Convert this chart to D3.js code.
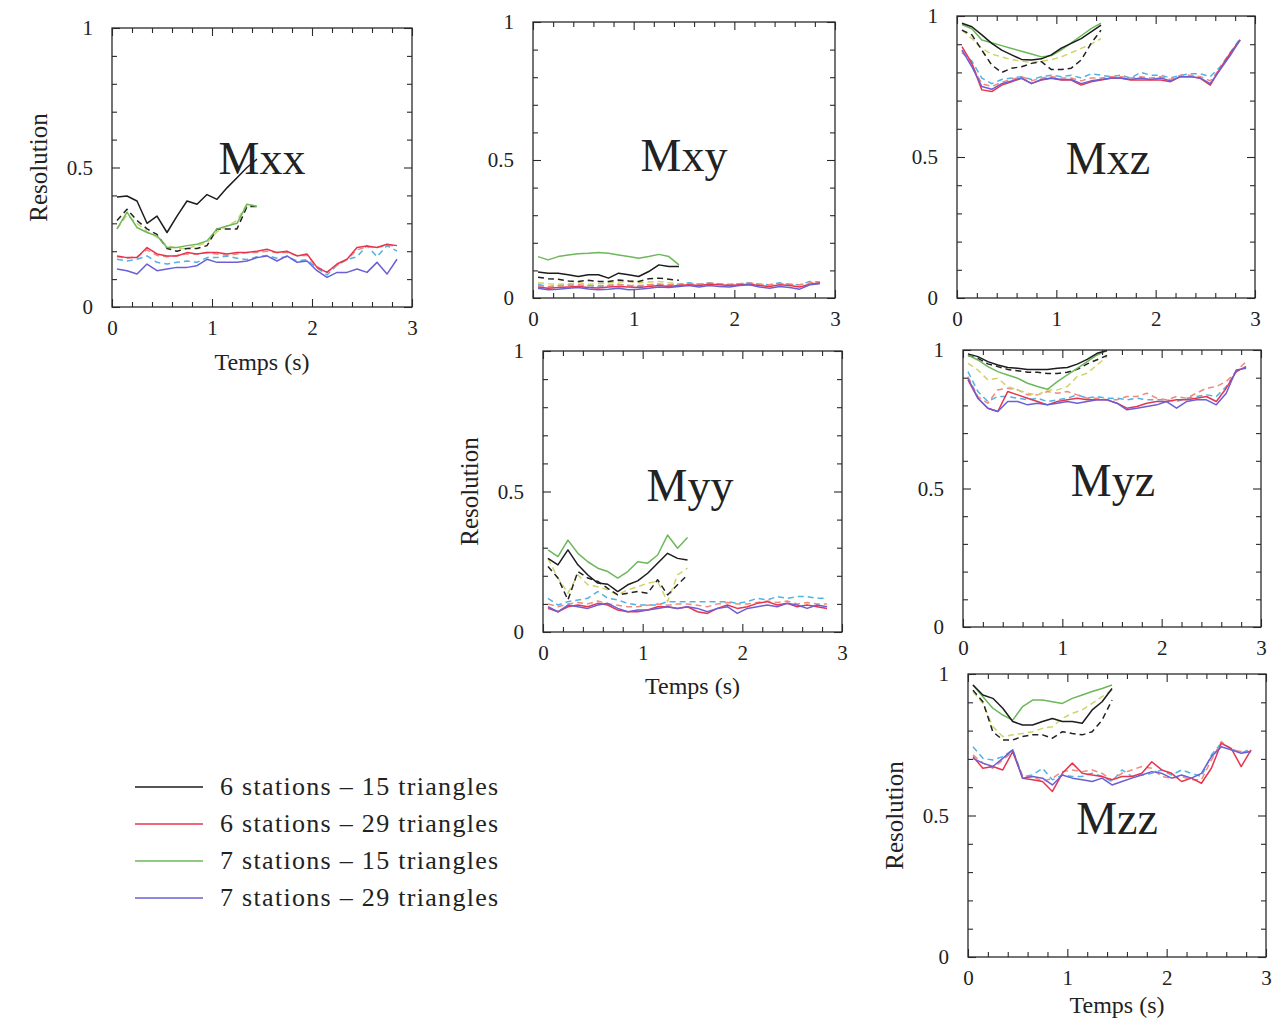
<!DOCTYPE html>
<html><head><meta charset="utf-8">
<script src="https://cdn.jsdelivr.net/npm/d3@7"></script>
<style>
body{margin:0;background:#fff}
svg{display:block}
text{font-family:"Liberation Serif","Times New Roman",serif;fill:#222}
</style>
</head><body><svg id="c" width="1287" height="1024"></svg>
<script>
// ---------- data ----------
const times15 = [0.05,0.15,0.25,0.35,0.45,0.55,0.65,0.75,0.85,0.95,1.05,1.15,1.25,1.35,1.45];
const times29 = [0.05,0.15,0.25,0.35,0.45,0.55,0.65,0.75,0.85,0.95,1.05,1.15,1.25,1.35,1.45,1.55,1.65,1.75,1.85,1.95,2.05,2.15,2.25,2.35,2.45,2.55,2.65,2.75,2.85];
const panelNames = ["Mxx","Mxy","Mxz","Myy","Myz","Mzz"];
const legendLabels = ["6 stations \u2013 15 triangles","6 stations \u2013 29 triangles","7 stations \u2013 15 triangles","7 stations \u2013 29 triangles"];
const xMajorTicks = [0,1,2,3];
const xMinorTicks = [0.2,0.4,0.6,0.8,1.2,1.4,1.6,1.8,2.2,2.4,2.6,2.8];
const yMajorTicks = [0,0.5,1];
const yMinorTicks = [0.1,0.2,0.3,0.4,0.6,0.7,0.8,0.9];

// Mxx
const mxx_6s15 = [0.394,0.398,0.380,0.300,0.326,0.267,0.326,0.380,0.368,0.403,0.386,0.427,0.463,0.500,0.530];
const mxx_6s15b = [0.31,0.35,0.31,0.28,0.26,0.21,0.20,0.21,0.21,0.22,0.28,0.28,0.28,0.36,0.36];
const mxx_7s15 = [0.280,0.340,0.285,0.267,0.255,0.213,0.213,0.220,0.225,0.237,0.280,0.290,0.300,0.368,0.360];
const mxx_7s15b = [0.28,0.33,0.30,0.27,0.25,0.22,0.21,0.21,0.22,0.23,0.27,0.29,0.31,0.37,0.36];
const mxx_6s29 = [0.183,0.177,0.177,0.213,0.190,0.183,0.183,0.195,0.190,0.195,0.195,0.190,0.195,0.195,0.200,0.207,0.195,0.200,0.183,0.190,0.142,0.124,0.154,0.171,0.213,0.219,0.213,0.225,0.220];
const mxx_6s29b = [0.180,0.175,0.180,0.205,0.185,0.180,0.185,0.190,0.190,0.195,0.190,0.185,0.190,0.195,0.195,0.200,0.195,0.195,0.185,0.185,0.145,0.125,0.150,0.170,0.205,0.215,0.215,0.220,0.220];
const mxx_7s29 = [0.136,0.130,0.118,0.154,0.130,0.136,0.142,0.142,0.148,0.171,0.160,0.160,0.160,0.165,0.177,0.183,0.165,0.183,0.160,0.165,0.130,0.106,0.124,0.124,0.136,0.124,0.160,0.118,0.171];
const mxx_7s29b = [0.171,0.165,0.171,0.183,0.160,0.154,0.160,0.165,0.160,0.177,0.177,0.183,0.175,0.170,0.180,0.185,0.175,0.180,0.165,0.170,0.140,0.115,0.150,0.170,0.180,0.220,0.180,0.220,0.200];

// Mxy
const mxy_6s15 = [0.094,0.090,0.090,0.084,0.078,0.084,0.084,0.072,0.090,0.084,0.078,0.096,0.120,0.114,0.114];
const mxy_6s15b = [0.075,0.070,0.068,0.062,0.060,0.064,0.060,0.060,0.065,0.062,0.060,0.070,0.072,0.068,0.064];
const mxy_7s15 = [0.150,0.138,0.150,0.156,0.160,0.162,0.165,0.162,0.156,0.150,0.144,0.150,0.158,0.150,0.120];
const mxy_7s15b = [0.055,0.052,0.050,0.052,0.055,0.050,0.052,0.055,0.058,0.060,0.055,0.058,0.060,0.055,0.052];
const mxy_6s29 = [0.040,0.035,0.038,0.040,0.042,0.038,0.036,0.040,0.042,0.040,0.038,0.042,0.045,0.042,0.045,0.048,0.045,0.050,0.048,0.045,0.048,0.050,0.045,0.042,0.048,0.045,0.040,0.050,0.055];
const mxy_6s29b = [0.045,0.042,0.044,0.046,0.048,0.045,0.044,0.046,0.048,0.046,0.045,0.048,0.050,0.048,0.050,0.052,0.050,0.054,0.052,0.050,0.052,0.054,0.050,0.048,0.052,0.050,0.048,0.055,0.058];
const mxy_7s29 = [0.035,0.030,0.032,0.035,0.038,0.033,0.030,0.032,0.035,0.030,0.032,0.035,0.040,0.038,0.042,0.045,0.040,0.045,0.042,0.040,0.045,0.048,0.040,0.035,0.042,0.038,0.032,0.048,0.052];
const mxy_7s29b = [0.050,0.040,0.045,0.048,0.042,0.045,0.040,0.045,0.050,0.045,0.042,0.048,0.050,0.045,0.050,0.055,0.050,0.055,0.050,0.048,0.052,0.055,0.050,0.048,0.055,0.050,0.048,0.060,0.058];

// Mxz
const mxz_6s15 = [0.974,0.962,0.933,0.903,0.879,0.862,0.846,0.844,0.848,0.862,0.886,0.903,0.920,0.944,0.968];
const mxz_6s15b = [0.950,0.933,0.879,0.826,0.800,0.815,0.820,0.832,0.838,0.810,0.810,0.815,0.844,0.903,0.950];
const mxz_7s15 = [0.970,0.955,0.915,0.905,0.895,0.885,0.875,0.865,0.855,0.860,0.880,0.905,0.930,0.955,0.975];
const mxz_7s15b = [0.950,0.920,0.885,0.865,0.855,0.845,0.840,0.835,0.840,0.845,0.855,0.870,0.885,0.900,0.920];
const mxz_6s29 = [0.891,0.832,0.738,0.732,0.755,0.767,0.779,0.761,0.773,0.779,0.773,0.773,0.755,0.767,0.773,0.779,0.779,0.773,0.773,0.773,0.773,0.767,0.785,0.785,0.779,0.755,0.814,0.868,0.915];
const mxz_6s29b = [0.875,0.825,0.760,0.750,0.765,0.775,0.785,0.770,0.780,0.785,0.780,0.780,0.770,0.780,0.780,0.785,0.785,0.780,0.785,0.780,0.785,0.775,0.790,0.790,0.785,0.770,0.815,0.865,0.915];
const mxz_7s29 = [0.880,0.820,0.750,0.740,0.760,0.770,0.780,0.760,0.775,0.780,0.775,0.775,0.760,0.770,0.775,0.780,0.780,0.775,0.780,0.775,0.780,0.770,0.785,0.785,0.780,0.760,0.810,0.860,0.915];
const mxz_7s29b = [0.870,0.840,0.780,0.760,0.775,0.780,0.785,0.775,0.785,0.790,0.785,0.790,0.780,0.795,0.790,0.785,0.790,0.780,0.800,0.790,0.790,0.780,0.790,0.795,0.795,0.785,0.820,0.870,0.920];

// Myy
const myy_6s15 = [0.262,0.239,0.292,0.239,0.203,0.174,0.170,0.144,0.168,0.182,0.209,0.245,0.280,0.262,0.256];
const myy_6s15b = [0.233,0.192,0.114,0.215,0.192,0.180,0.155,0.132,0.138,0.144,0.138,0.186,0.132,0.168,0.203];
const myy_7s15 = [0.292,0.268,0.327,0.280,0.250,0.227,0.215,0.192,0.215,0.250,0.245,0.274,0.345,0.298,0.336];
const myy_7s15b = [0.262,0.192,0.138,0.203,0.168,0.161,0.150,0.132,0.150,0.161,0.174,0.180,0.108,0.203,0.227];
const myy_6s29 = [0.084,0.072,0.090,0.096,0.090,0.102,0.096,0.078,0.072,0.072,0.078,0.090,0.090,0.084,0.090,0.072,0.066,0.084,0.096,0.084,0.090,0.102,0.108,0.096,0.102,0.090,0.096,0.090,0.084];
const myy_6s29b = [0.100,0.090,0.100,0.105,0.100,0.110,0.100,0.095,0.090,0.090,0.095,0.100,0.095,0.100,0.100,0.095,0.090,0.100,0.105,0.100,0.100,0.105,0.110,0.105,0.110,0.100,0.105,0.100,0.100];
const myy_7s29 = [0.090,0.072,0.096,0.090,0.084,0.096,0.102,0.084,0.072,0.078,0.078,0.084,0.090,0.084,0.090,0.084,0.072,0.084,0.090,0.066,0.084,0.090,0.096,0.090,0.102,0.096,0.084,0.096,0.090];
const myy_7s29b = [0.120,0.096,0.108,0.114,0.120,0.144,0.120,0.114,0.102,0.096,0.096,0.096,0.108,0.108,0.108,0.108,0.108,0.108,0.108,0.102,0.108,0.120,0.114,0.126,0.120,0.126,0.126,0.120,0.120];

// Myz
const myz_6s15 = [0.986,0.976,0.958,0.946,0.937,0.934,0.930,0.930,0.930,0.934,0.937,0.949,0.966,0.988,0.998];
const myz_6s15b = [0.980,0.970,0.950,0.940,0.930,0.925,0.920,0.920,0.915,0.915,0.920,0.930,0.950,0.965,0.980];
const myz_7s15 = [0.982,0.964,0.940,0.922,0.910,0.898,0.880,0.868,0.858,0.886,0.910,0.934,0.958,0.982,0.998];
const myz_7s15b = [0.952,0.928,0.892,0.898,0.868,0.856,0.844,0.838,0.856,0.856,0.868,0.904,0.916,0.946,0.976];
const myz_6s29 = [0.892,0.826,0.790,0.778,0.850,0.838,0.826,0.814,0.802,0.814,0.820,0.826,0.820,0.820,0.820,0.808,0.790,0.796,0.808,0.814,0.814,0.820,0.820,0.826,0.832,0.814,0.862,0.922,0.940];
const myz_6s29b = [0.904,0.832,0.808,0.856,0.862,0.856,0.838,0.838,0.850,0.844,0.850,0.838,0.826,0.826,0.820,0.820,0.832,0.832,0.844,0.826,0.820,0.832,0.826,0.844,0.862,0.868,0.886,0.922,0.958];
const myz_7s29 = [0.898,0.826,0.790,0.778,0.814,0.814,0.802,0.808,0.802,0.808,0.814,0.808,0.814,0.820,0.820,0.808,0.784,0.790,0.796,0.802,0.814,0.790,0.814,0.820,0.820,0.802,0.844,0.928,0.934];
const myz_7s29b = [0.922,0.850,0.814,0.832,0.832,0.826,0.820,0.826,0.814,0.820,0.826,0.838,0.826,0.832,0.826,0.826,0.820,0.826,0.820,0.820,0.820,0.814,0.826,0.832,0.838,0.832,0.868,0.922,0.940];

// Mzz
const mzz_6s15 = [0.961,0.926,0.914,0.879,0.832,0.820,0.820,0.832,0.843,0.832,0.832,0.826,0.873,0.902,0.949];
const mzz_6s15b = [0.943,0.902,0.796,0.767,0.767,0.779,0.785,0.785,0.773,0.796,0.790,0.785,0.796,0.837,0.908];
const mzz_7s15 = [0.961,0.920,0.879,0.855,0.837,0.885,0.908,0.908,0.902,0.896,0.914,0.926,0.938,0.949,0.961];
const mzz_7s15b = [0.938,0.896,0.814,0.779,0.785,0.790,0.796,0.808,0.814,0.843,0.861,0.873,0.896,0.920,0.943];
const mzz_6s29 = [0.708,0.667,0.673,0.661,0.726,0.632,0.626,0.620,0.585,0.649,0.685,0.649,0.643,0.638,0.626,0.638,0.638,0.649,0.690,0.661,0.649,0.620,0.632,0.614,0.667,0.755,0.737,0.673,0.732];
const mzz_6s29b = [0.714,0.685,0.667,0.696,0.726,0.638,0.638,0.620,0.632,0.655,0.661,0.655,0.661,0.649,0.626,0.649,0.661,0.673,0.667,0.638,0.632,0.638,0.626,0.626,0.696,0.761,0.732,0.726,0.726];
const mzz_7s29 = [0.702,0.685,0.673,0.702,0.732,0.632,0.638,0.632,0.608,0.643,0.632,0.626,0.620,0.632,0.608,0.620,0.632,0.643,0.655,0.649,0.632,0.643,0.632,0.649,0.708,0.743,0.732,0.720,0.726];
const mzz_7s29b = [0.743,0.702,0.696,0.708,0.732,0.638,0.643,0.667,0.626,0.643,0.638,0.638,0.649,0.638,0.620,0.661,0.638,0.643,0.649,0.661,0.643,0.661,0.649,0.638,0.714,0.755,0.737,0.720,0.737];

// ---------- styles & layout ----------
// draw order: 29-triangle dashed, 29 solid, 15 dashed, 15 solid
const seriesStyles = [
  {key:"7s29b", color:"#4fb3e6", dash:"6,4", n:29},
  {key:"6s29b", color:"#f08a7c", dash:"6,4", n:29},
  {key:"6s29",  color:"#e8354f", dash:null,  n:29},
  {key:"7s29",  color:"#6a5fd6", dash:null,  n:29},
  {key:"7s15b", color:"#cfd469", dash:"6,4", n:15},
  {key:"6s15b", color:"#222222", dash:"6,4", n:15},
  {key:"7s15",  color:"#6cb85a", dash:null,  n:15},
  {key:"6s15",  color:"#1c1c1c", dash:null,  n:15}
];
const legendColors = ["#1c1c1c","#e8354f","#6cb85a","#6a5fd6"];

const panelData = {
  Mxx:{"6s15":mxx_6s15,"6s15b":mxx_6s15b,"7s15":mxx_7s15,"7s15b":mxx_7s15b,"6s29":mxx_6s29,"6s29b":mxx_6s29b,"7s29":mxx_7s29,"7s29b":mxx_7s29b},
  Mxy:{"6s15":mxy_6s15,"6s15b":mxy_6s15b,"7s15":mxy_7s15,"7s15b":mxy_7s15b,"6s29":mxy_6s29,"6s29b":mxy_6s29b,"7s29":mxy_7s29,"7s29b":mxy_7s29b},
  Mxz:{"6s15":mxz_6s15,"6s15b":mxz_6s15b,"7s15":mxz_7s15,"7s15b":mxz_7s15b,"6s29":mxz_6s29,"6s29b":mxz_6s29b,"7s29":mxz_7s29,"7s29b":mxz_7s29b},
  Myy:{"6s15":myy_6s15,"6s15b":myy_6s15b,"7s15":myy_7s15,"7s15b":myy_7s15b,"6s29":myy_6s29,"6s29b":myy_6s29b,"7s29":myy_7s29,"7s29b":myy_7s29b},
  Myz:{"6s15":myz_6s15,"6s15b":myz_6s15b,"7s15":myz_7s15,"7s15b":myz_7s15b,"6s29":myz_6s29,"6s29b":myz_6s29b,"7s29":myz_7s29,"7s29b":myz_7s29b},
  Mzz:{"6s15":mzz_6s15,"6s15b":mzz_6s15b,"7s15":mzz_7s15,"7s15b":mzz_7s15b,"6s29":mzz_6s29,"6s29b":mzz_6s29b,"7s29":mzz_7s29,"7s29b":mzz_7s29b}
};

// [left, top, right, bottom, titleX, titleY, showAxisTitles, xTitleOffset]
const panelLayout = {
  Mxx:[112,28,412,307,262,158,true,56],
  Mxy:[533,22,835,298,684,155,false,0],
  Mxz:[957,16,1255,298,1108,158,false,0],
  Myy:[543,351,842,632,690,485,true,55],
  Myz:[963,350,1261,627,1113,480,false,0],
  Mzz:[968,674,1266,957,1117,818,true,49]
};

const svg = d3.select("#c");

panelNames.forEach(name => {
  const L = panelLayout[name];
  const x = d3.scaleLinear().domain([0,3]).range([L[0], L[2]]);
  const y = d3.scaleLinear().domain([0,1]).range([L[3], L[1]]);
  const g = svg.append("g");

  const clipId = "clip-" + name;
  g.append("clipPath").attr("id", clipId).append("rect")
    .attr("x", x(0)).attr("y", y(1)).attr("width", x(3)-x(0)).attr("height", y(0)-y(1));

  // lines
  const line = d3.line().x(d => x(d[0])).y(d => y(d[1]));
  const lg = g.append("g").attr("clip-path", `url(#${clipId})`);
  seriesStyles.forEach(s => {
    const vals = panelData[name][s.key];
    const ts = s.n === 29 ? times29 : times15;
    lg.append("path")
      .datum(ts.map((t,i) => [t, vals[i]]))
      .attr("d", line)
      .attr("fill","none")
      .attr("stroke", s.color)
      .attr("stroke-width", 1.5)
      .attr("stroke-linejoin","round")
      .attr("stroke-dasharray", s.dash);
  });

  // frame
  g.append("rect").attr("x",x(0)).attr("y",y(1))
    .attr("width",x(3)-x(0)).attr("height",y(0)-y(1))
    .attr("fill","none").attr("stroke","#2a2a2a").attr("stroke-width",1.3);

  const styleAxis = sel => { sel.select(".domain").remove(); sel.selectAll("line").attr("stroke","#2a2a2a").attr("stroke-width",1.1); sel.selectAll("text").style("font-family",'"Liberation Serif",serif').style("font-size","21px").attr("fill","#222"); };

  // bottom
  g.append("g").attr("transform",`translate(0,${y(0)})`)
    .call(d3.axisBottom(x).tickValues(xMajorTicks).tickSize(-8).tickPadding(13).tickFormat(d3.format("d"))).call(styleAxis);
  g.append("g").attr("transform",`translate(0,${y(0)})`)
    .call(d3.axisBottom(x).tickValues(xMinorTicks).tickSize(-5).tickFormat("")).call(styleAxis);
  // top
  g.append("g").attr("transform",`translate(0,${y(1)})`)
    .call(d3.axisTop(x).tickValues(xMajorTicks).tickSize(-8).tickFormat("")).call(styleAxis);
  g.append("g").attr("transform",`translate(0,${y(1)})`)
    .call(d3.axisTop(x).tickValues(xMinorTicks).tickSize(-5).tickFormat("")).call(styleAxis);
  // left
  g.append("g").attr("transform",`translate(${x(0)},0)`)
    .call(d3.axisLeft(y).tickValues(yMajorTicks).tickSize(-8).tickPadding(19).tickFormat(d => d === 0.5 ? "0.5" : d3.format("d")(d))).call(styleAxis);
  g.append("g").attr("transform",`translate(${x(0)},0)`)
    .call(d3.axisLeft(y).tickValues(yMinorTicks).tickSize(-5).tickFormat("")).call(styleAxis);
  // right
  g.append("g").attr("transform",`translate(${x(3)},0)`)
    .call(d3.axisRight(y).tickValues(yMajorTicks).tickSize(-8).tickFormat("")).call(styleAxis);
  g.append("g").attr("transform",`translate(${x(3)},0)`)
    .call(d3.axisRight(y).tickValues(yMinorTicks).tickSize(-5).tickFormat("")).call(styleAxis);

  // title
  g.append("text").attr("x", L[4]).attr("y", L[5]).attr("dy","0.35em")
    .attr("text-anchor","middle").style("font-size","46px").text(name);

  if (L[6]) {
    g.append("text").attr("x", (x(0)+x(3))/2).attr("y", y(0)+L[7]).attr("dy","0.3em")
      .attr("text-anchor","middle").style("font-size","24px").text("Temps (s)");
    g.append("text")
      .attr("transform",`translate(${x(0)-74},${(y(0)+y(1))/2}) rotate(-90)`)
      .attr("dy","0.35em").attr("text-anchor","middle").style("font-size","25px").text("Resolution");
  }
});

// legend
const legendY = d3.scalePoint().domain(legendLabels).range([787, 898]);
const leg = svg.append("g");
legendLabels.forEach((lab, i) => {
  leg.append("line").attr("x1",135).attr("x2",203)
    .attr("y1",legendY(lab)).attr("y2",legendY(lab))
    .attr("stroke",legendColors[i]).attr("stroke-width",1.5);
  leg.append("text").attr("x",220).attr("y",legendY(lab)).attr("dy","0.32em")
    .style("font-size","26px").style("letter-spacing","1.3px").text(lab);
});
</script>
</body></html>
